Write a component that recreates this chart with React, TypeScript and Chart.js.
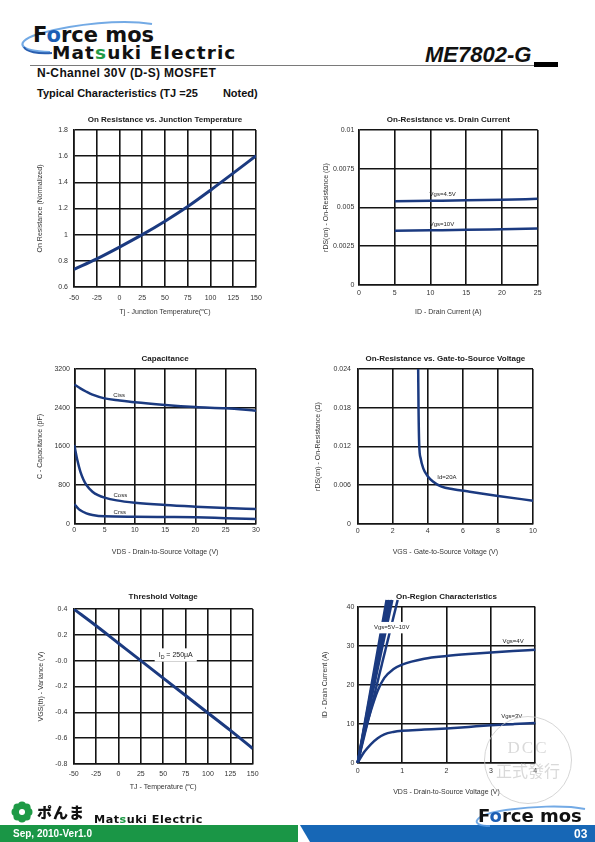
import React, { useEffect, useRef } from "react";
import { Chart, registerables } from "chart.js";

Chart.register(...registerables);

const FONT = "'Liberation Sans', Arial, Helvetica, sans-serif";
const LOGO_FONT = "'DejaVu Sans', 'Liberation Sans', sans-serif";
Chart.defaults.font.family = FONT;

const LINE_COLOR = "#1b3a80";
const GRID_COLOR = "#141414";

// ---------------- DATA ----------------
// 1. On Resistance vs. Junction Temperature
const tjTemps = [-50, -25, 0, 25, 50, 75, 100, 125, 150];
const rdsNormalized = [0.735, 0.815, 0.905, 1.0, 1.103, 1.215, 1.34, 1.47, 1.603];
const tempTicks = [-50, -25, 0, 25, 50, 75, 100, 125, 150];
const tempTickLabels = ["-50", "-25", "0", "25", "50", "75", "100", "125", "150"];
const rdsNormTicks = [0.6, 0.8, 1.0, 1.2, 1.4, 1.6, 1.8];
const rdsNormTickLabels = ["0.6", "0.8", "1", "1.2", "1.4", "1.6", "1.8"];

// 2. On-Resistance vs. Drain Current
const drainCurrents = [5, 10, 15, 20, 25];
const rdsVgs45 = [0.0054, 0.00543, 0.00546, 0.0055, 0.00556];
const rdsVgs10 = [0.0035, 0.00353, 0.00356, 0.0036, 0.00364];
const idTicks = [0, 5, 10, 15, 20, 25];
const idTickLabels = ["0", "5", "10", "15", "20", "25"];
const rdsTicks2 = [0, 0.0025, 0.005, 0.0075, 0.01];
const rdsTickLabels2 = ["0", "0.0025", "0.005", "0.0075", "0.01"];

// 3. Capacitance
const cissVds = [0, 1, 2, 3, 5, 7.5, 10, 15, 20, 25, 30];
const cissPf = [2880, 2800, 2730, 2670, 2594, 2550, 2512, 2457, 2415, 2388, 2340];
const cossVds = [0, 0.5, 1, 1.5, 2, 3, 4, 5, 7, 10, 15, 20, 25, 30];
const cossPf = [1630, 1320, 1080, 920, 805, 667, 590, 544, 488, 440, 392, 358, 330, 310];
const crssVds = [0, 0.5, 1, 2, 3, 5, 10, 15, 20, 25, 30];
const crssPf = [413, 340, 282, 220, 186, 158, 151, 145, 138, 120, 103];
const vdsTicks30 = [0, 5, 10, 15, 20, 25, 30];
const vdsTickLabels30 = ["0", "5", "10", "15", "20", "25", "30"];
const capTicks = [0, 800, 1600, 2400, 3200];
const capTickLabels = ["0", "800", "1600", "2400", "3200"];

// 4. On-Resistance vs. Gate-to-Source Voltage
const vgsValues = [3.45, 3.47, 3.51, 3.59, 3.74, 3.97, 4.31, 4.78, 5.45, 6.39, 8.01, 10];
const rdsVsVgs = [0.024, 0.0179, 0.01223, 0.01017, 0.00862, 0.00748, 0.00655, 0.00578, 0.00537, 0.00501, 0.00434, 0.00361];
const vgsTicks = [0, 2, 4, 6, 8, 10];
const vgsTickLabels = ["0", "2", "4", "6", "8", "10"];
const rdsTicks4 = [0, 0.006, 0.012, 0.018, 0.024];
const rdsTickLabels4 = ["0", "0.006", "0.012", "0.018", "0.024"];

// 5. Threshold Voltage
const thTemps = [-50, -25, 0, 25, 50, 75, 100, 125, 150];
const vthVariance = [0.4, 0.27, 0.135, 0.0, -0.135, -0.27, -0.405, -0.54, -0.68];
const vthTicks = [-0.8, -0.6, -0.4, -0.2, 0, 0.2, 0.4];
const vthTickLabels = ["-0.8", "-0.6", "-0.4", "-0.2", "-0.0", "0.2", "0.4"];

// 6. On-Region Characteristics
const bundleVds = [0.65, 0.68, 0.71, 0.75, 0.78, 0.9]; // Vgs = 10V ... 5V, drain voltage where each line leaves the top
const bundleTopCurrent = 41.8;
const vgs4Vds = [0, 0.15, 0.3, 0.45, 0.6, 0.8, 1.0, 1.5, 2, 2.5, 3, 3.5, 4];
const vgs4Id = [0, 7.5, 13.5, 18.5, 21.8, 24, 25.2, 26.7, 27.4, 27.9, 28.3, 28.7, 29.0];
const vgs3Vds = [0, 0.15, 0.3, 0.45, 0.6, 0.8, 1.0, 1.5, 2, 2.5, 3, 3.5, 4];
const vgs3Id = [0, 2.8, 4.8, 6.3, 7.3, 7.9, 8.2, 8.5, 8.8, 9.2, 9.6, 9.9, 10.2];
const vdsTicks4 = [0, 1, 2, 3, 4];
const vdsTickLabels4 = ["0", "1", "2", "3", "4"];
const idTicks40 = [0, 10, 20, 30, 40];
const idTickLabels40 = ["0", "10", "20", "30", "40"];

// ---------------- HELPERS ----------------
type Series = { xs: number[]; ys: number[]; width?: number };
type Note = { x: number; y: number; text: string; bg?: boolean; size?: number };
type Spec = {
  box: { left: number; top: number; width: number; height: number };
  plot: { left: number; top: number; right: number; bottom: number };
  titleY: number;
  yTitleX: number;
  xTitleY: number;
  yTickRight: number;
  xTickY: number;
  title: string;
  xTitle: string;
  yTitle: string;
  xMin: number;
  xMax: number;
  xTicks: number[];
  xTickLabels: string[];
  yMin: number;
  yMax: number;
  yTicks: number[];
  yTickLabels: string[];
  series: Series[];
  notes: Note[];
  noClip?: boolean;
};

const pts = (xs: number[], ys: number[]) => xs.map((x, i) => ({ x, y: ys[i] }));

function parseSub(text: string) {
  const parts: { t: string; sub: boolean }[] = [];
  const re = /_\{([^}]*)\}/g;
  let last = 0;
  let m: RegExpExecArray | null;
  while ((m = re.exec(text))) {
    if (m.index > last) parts.push({ t: text.slice(last, m.index), sub: false });
    parts.push({ t: m[1], sub: true });
    last = m.index + m[0].length;
  }
  if (last < text.length) parts.push({ t: text.slice(last), sub: false });
  return parts;
}

const notesPlugin = {
  id: "notes",
  afterDatasetsDraw(chart: any, _args: any, opts: any) {
    const items: Note[] = (opts && opts.items) || [];
    const ctx = chart.ctx as CanvasRenderingContext2D;
    const sx = chart.scales.x;
    const sy = chart.scales.y;
    ctx.save();
    for (const n of items) {
      const size = n.size || 6;
      const px = sx.getPixelForValue(n.x);
      const py = sy.getPixelForValue(n.y);
      const parts = parseSub(n.text);
      let total = 0;
      const widths = parts.map((p) => {
        ctx.font = `${p.sub ? size * 0.75 : size}px ${FONT}`;
        const w = ctx.measureText(p.t).width;
        total += w;
        return w;
      });
      let x = px - total / 2;
      if (n.bg) {
        ctx.fillStyle = "#ffffff";
        ctx.fillRect(x - 4, py - size * 0.95, total + 8, size * 1.9);
      }
      ctx.fillStyle = "#222";
      ctx.textAlign = "left";
      ctx.textBaseline = "middle";
      parts.forEach((p, i) => {
        ctx.font = `${p.sub ? size * 0.75 : size}px ${FONT}`;
        ctx.fillText(p.t, x, py + (p.sub ? size * 0.3 : 0));
        x += widths[i];
      });
    }
    ctx.restore();
  },
};

function buildConfig(s: Spec): any {
  const TITLE = 8;
  const TICK = 7;
  const AXIS = 7;
  const LH = 1.2;
  const titleLH = TITLE * LH;
  const axisLH = AXIS * LH;
  const tickLH = TICK * LH;
  const { box, plot } = s;
  const titlePadTop = s.titleY - box.top - titleLH / 2;
  const titlePadBottom = plot.top - box.top - titlePadTop - titleLH;
  const yAxisWidth = plot.left - box.left;
  const xAxisHeight = box.top + box.height - plot.bottom;
  const rightPad = box.left + box.width - plot.right;
  const yTitlePad = s.yTitleX - box.left - axisLH / 2;
  const xTitlePad = box.top + box.height - s.xTitleY - axisLH / 2;
  const yTickPad = plot.left - s.yTickRight;
  const xTickPad = s.xTickY - plot.bottom - tickLH / 2;

  const grid = { color: GRID_COLOR, lineWidth: 1.6, drawTicks: false };
  const border = { color: GRID_COLOR, width: 1.6 };

  return {
    type: "line",
    data: {
      datasets: s.series.map((ser) => ({
        data: pts(ser.xs, ser.ys),
        borderColor: LINE_COLOR,
        borderWidth: ser.width || 2.5,
        pointRadius: 0,
        fill: false,
        cubicInterpolationMode: "monotone",
        clip: s.noClip ? false : undefined,
      })),
    },
    options: {
      responsive: false,
      animation: false,
      events: [],
      layout: { padding: { left: 0, top: 0, right: rightPad, bottom: 0 } },
      plugins: {
        legend: { display: false },
        tooltip: { enabled: false },
        title: {
          display: true,
          text: s.title,
          fullSize: false,
          color: "#1a1a1a",
          font: { size: TITLE, weight: "bold", lineHeight: LH },
          padding: { top: titlePadTop, bottom: titlePadBottom },
        },
        notes: { items: s.notes },
      },
      scales: {
        x: {
          type: "linear",
          min: s.xMin,
          max: s.xMax,
          afterBuildTicks: (scale: any) => {
            scale.ticks = s.xTicks.map((v) => ({ value: v }));
          },
          afterFit: (scale: any) => {
            scale.height = xAxisHeight;
          },
          ticks: {
            autoSkip: false,
            maxRotation: 0,
            padding: xTickPad,
            color: "#333",
            font: { size: TICK, lineHeight: LH },
            callback: (_v: any, i: number) => s.xTickLabels[i],
          },
          grid,
          border,
          title: {
            display: true,
            text: s.xTitle,
            color: "#333",
            font: { size: AXIS, lineHeight: LH },
            padding: { top: 0, bottom: xTitlePad },
          },
        },
        y: {
          type: "linear",
          min: s.yMin,
          max: s.yMax,
          afterBuildTicks: (scale: any) => {
            scale.ticks = s.yTicks.map((v) => ({ value: v }));
          },
          afterFit: (scale: any) => {
            scale.width = yAxisWidth;
          },
          ticks: {
            autoSkip: false,
            padding: yTickPad,
            color: "#333",
            font: { size: TICK, lineHeight: LH },
            callback: (_v: any, i: number) => s.yTickLabels[i],
          },
          grid,
          border,
          title: {
            display: true,
            text: s.yTitle,
            color: "#333",
            font: { size: AXIS, lineHeight: LH },
            padding: { top: yTitlePad, bottom: 0 },
          },
        },
      },
    },
    plugins: [notesPlugin],
  };
}

// ---------------- CHART SPECS ----------------
const specs: Spec[] = [
  {
    box: { left: 20, top: 108, width: 280, height: 215 },
    plot: { left: 74, top: 130, right: 256, bottom: 287 },
    titleY: 120, yTitleX: 40.5, xTitleY: 312, yTickRight: 68, xTickY: 298,
    title: "On Resistance vs. Junction Temperature",
    xTitle: "Tj - Junction Temperature(℃)",
    yTitle: "On Resistance (Normalized)",
    xMin: -50, xMax: 150, xTicks: tempTicks, xTickLabels: tempTickLabels,
    yMin: 0.6, yMax: 1.8, yTicks: rdsNormTicks, yTickLabels: rdsNormTickLabels,
    series: [{ xs: tjTemps, ys: rdsNormalized, width: 3 }],
    notes: [],
  },
  {
    box: { left: 305, top: 108, width: 260, height: 215 },
    plot: { left: 359, top: 130, right: 537.7, bottom: 285 },
    titleY: 120, yTitleX: 326, xTitleY: 312, yTickRight: 354.3, xTickY: 292.7,
    title: "On-Resistance vs. Drain Current",
    xTitle: "ID - Drain Current (A)",
    yTitle: "rDS(on) - On-Resistance (Ω)",
    xMin: 0, xMax: 25, xTicks: idTicks, xTickLabels: idTickLabels,
    yMin: 0, yMax: 0.01, yTicks: rdsTicks2, yTickLabels: rdsTickLabels2,
    series: [
      { xs: drainCurrents, ys: rdsVgs45 },
      { xs: drainCurrents, ys: rdsVgs10 },
    ],
    notes: [
      { x: 11.7, y: 0.00585, text: "Vgs=4.5V" },
      { x: 11.6, y: 0.00392, text: "Vgs=10V" },
    ],
  },
  {
    box: { left: 20, top: 345, width: 280, height: 215 },
    plot: { left: 74.3, top: 369, right: 256, bottom: 524 },
    titleY: 358.5, yTitleX: 40, xTitleY: 551.7, yTickRight: 70, xTickY: 530,
    title: "Capacitance",
    xTitle: "VDS - Drain-to-Source Voltage (V)",
    yTitle: "C - Capacitance (pF)",
    xMin: 0, xMax: 30, xTicks: vdsTicks30, xTickLabels: vdsTickLabels30,
    yMin: 0, yMax: 3200, yTicks: capTicks, yTickLabels: capTickLabels,
    series: [
      { xs: cissVds, ys: cissPf },
      { xs: cossVds, ys: cossPf },
      { xs: crssVds, ys: crssPf },
    ],
    notes: [
      { x: 7.4, y: 2663, text: "Ciss" },
      { x: 7.6, y: 599, text: "Coss" },
      { x: 7.5, y: 241, text: "Crss" },
    ],
  },
  {
    box: { left: 305, top: 345, width: 260, height: 215 },
    plot: { left: 357.7, top: 369, right: 533, bottom: 524 },
    titleY: 359, yTitleX: 318, xTitleY: 551.7, yTickRight: 351, xTickY: 530.7,
    title: "On-Resistance vs. Gate-to-Source Voltage",
    xTitle: "VGS - Gate-to-Source Voltage (V)",
    yTitle: "rDS(on) - On-Resistance (Ω)",
    xMin: 0, xMax: 10, xTicks: vgsTicks, xTickLabels: vgsTickLabels,
    yMin: 0, yMax: 0.024, yTicks: rdsTicks4, yTickLabels: rdsTickLabels4,
    series: [{ xs: vgsValues, ys: rdsVsVgs }],
    notes: [{ x: 5.09, y: 0.00717, text: "Id=20A" }],
  },
  {
    box: { left: 20, top: 585, width: 280, height: 215 },
    plot: { left: 73.7, top: 609, right: 252.7, bottom: 764 },
    titleY: 597, yTitleX: 40.7, xTitleY: 786.7, yTickRight: 67.3, xTickY: 774,
    title: "Threshold Voltage",
    xTitle: "TJ - Temperature (℃)",
    yTitle: "VGS(th) - Variance (V)",
    xMin: -50, xMax: 150, xTicks: tempTicks, xTickLabels: tempTickLabels,
    yMin: -0.8, yMax: 0.4, yTicks: vthTicks, yTickLabels: vthTickLabels,
    series: [{ xs: thTemps, ys: vthVariance, width: 3 }],
    notes: [{ x: 64, y: 0.044, text: "I_{D} = 250μA", bg: true, size: 7 }],
  },
  {
    box: { left: 305, top: 585, width: 260, height: 215 },
    plot: { left: 357.7, top: 607, right: 535.3, bottom: 762.7 },
    titleY: 596.7, yTitleX: 325, xTitleY: 792.3, yTickRight: 354.3, xTickY: 771,
    title: "On-Region Characteristics",
    xTitle: "VDS - Drain-to-Source Voltage (V)",
    yTitle: "ID - Drain Current (A)",
    xMin: 0, xMax: 4, xTicks: vdsTicks4, xTickLabels: vdsTickLabels4,
    yMin: 0, yMax: 40, yTicks: idTicks40, yTickLabels: idTickLabels40,
    noClip: true,
    series: [
      ...bundleVds.map((v) => ({ xs: [0, v], ys: [0, bundleTopCurrent] })),
      { xs: vgs4Vds, ys: vgs4Id },
      { xs: vgs3Vds, ys: vgs3Id },
    ],
    notes: [
      { x: 0.766, y: 34.7, text: "Vgs=5V~10V", bg: true },
      { x: 3.5, y: 31.3, text: "Vgs=4V" },
      { x: 3.47, y: 11.8, text: "Vgs=3V" },
    ],
  },
];

function ChartBox({ spec }: { spec: Spec }) {
  const ref = useRef<HTMLCanvasElement>(null);
  useEffect(() => {
    const chart = new Chart(ref.current as HTMLCanvasElement, buildConfig(spec));
    return () => chart.destroy();
  }, [spec]);
  const { box } = spec;
  return (
    <canvas
      ref={ref}
      width={box.width}
      height={box.height}
      style={{ position: "absolute", left: box.left, top: box.top, width: box.width, height: box.height }}
    />
  );
}

// ---------------- PAGE DECORATION ----------------
function Txt(props: { x: number; y: number; size: number; style?: React.CSSProperties; children: React.ReactNode }) {
  const { x, y, size, style, children } = props;
  return (
    <div
      style={{
        position: "absolute",
        left: x,
        top: y - size / 2,
        fontSize: size,
        lineHeight: `${size}px`,
        whiteSpace: "pre",
        ...style,
      }}
    >
      {children}
    </div>
  );
}

function Header() {
  return (
    <>
      <svg width={595} height={80} style={{ position: "absolute", left: 0, top: 0 }}>
        <path d="M 50 52 C 18 52, 12 41, 42 33 C 75 24, 122 19, 152 24" stroke="#5b9be0" strokeWidth={2.2} fill="none" opacity={0.85} />
        <path d="M 24 47 C 26 52, 38 54, 52 53" stroke="#2a5fb0" strokeWidth={2} fill="none" />
      </svg>
      <Txt x={33} y={35.8} size={21} style={{ fontFamily: LOGO_FONT, fontWeight: 700, color: "#111" }}>
        F<span style={{ color: "#1d5fb4" }}>o</span>rce mos
      </Txt>
      <Txt x={52} y={52.9} size={18.5} style={{ fontFamily: LOGO_FONT, fontWeight: 700, color: "#111", letterSpacing: 1.1 }}>
        Mat<span style={{ color: "#1e9a46" }}>s</span>uki Electric
      </Txt>
      <div style={{ position: "absolute", left: 30, top: 64.5, width: 505, height: 1, background: "#7a7a7a" }} />
      <Txt x={425} y={54.5} size={22} style={{ fontFamily: FONT, fontWeight: 700, fontStyle: "italic", color: "#111" }}>
        ME7802-G
      </Txt>
      <div style={{ position: "absolute", left: 534, top: 62, width: 24, height: 5, background: "#000" }} />
      <Txt x={37} y={73} size={12} style={{ fontFamily: FONT, fontWeight: 700, color: "#111", letterSpacing: 0.35 }}>
        N-Channel 30V (D-S) MOSFET
      </Txt>
      <Txt x={37} y={93} size={11} style={{ fontFamily: FONT, fontWeight: 700, color: "#111" }}>
        Typical Characteristics (TJ =25<span style={{ display: "inline-block", width: 25 }} />Noted)
      </Txt>
    </>
  );
}

function Watermark() {
  return (
    <>
      <div
        style={{
          position: "absolute",
          left: 528 - 44,
          top: 760 - 44,
          width: 88,
          height: 88,
          borderRadius: "50%",
          border: "1.5px solid rgba(200,200,200,0.75)",
          boxSizing: "border-box",
          pointerEvents: "none",
        }}
      />
      <div
        style={{
          position: "absolute",
          left: 488,
          width: 80,
          top: 739,
          textAlign: "center",
          fontFamily: "'Liberation Serif', 'DejaVu Serif', serif",
          fontSize: 17,
          lineHeight: "17px",
          letterSpacing: 2,
          color: "rgba(185,185,185,0.55)",
        }}
      >
        DCC
      </div>
      <div
        style={{
          position: "absolute",
          left: 478,
          width: 100,
          top: 762,
          textAlign: "center",
          fontFamily: "'Noto Sans CJK TC', 'Noto Sans CJK SC', sans-serif",
          fontSize: 16,
          lineHeight: "17px",
          color: "rgba(185,185,185,0.55)",
        }}
      >
        正式發行
      </div>
    </>
  );
}

function Footer() {
  const petals = [0, 45, 90, 135, 180, 225, 270, 315];
  return (
    <>
      <svg width={40} height={26} style={{ position: "absolute", left: 9, top: 799 }}>
        {petals.map((a) => (
          <circle
            key={a}
            cx={13 + 6.5 * Math.cos((a * Math.PI) / 180)}
            cy={13 + 6.5 * Math.sin((a * Math.PI) / 180)}
            r={4}
            fill="#1e9a46"
          />
        ))}
        <circle cx={13} cy={13} r={3} fill="#ffffff" />
      </svg>
      <Txt x={37} y={811} size={15} style={{ fontFamily: "'Noto Sans CJK JP', sans-serif", fontWeight: 900, color: "#111", letterSpacing: 1 }}>
        ポんま
      </Txt>
      <Txt x={94} y={820} size={11.2} style={{ fontFamily: LOGO_FONT, fontWeight: 700, color: "#111", letterSpacing: 0.5 }}>
        Mat<span style={{ color: "#1e9a46" }}>s</span>uki Electric
      </Txt>
      <div style={{ position: "absolute", left: 0, top: 825, width: 298, height: 17, background: "#1a9646" }} />
      <div
        style={{
          position: "absolute",
          left: 300,
          top: 825,
          width: 295,
          height: 17,
          background: "#1767b6",
          clipPath: "polygon(0 0, 100% 0, 100% 100%, 10px 100%)",
        }}
      />
      <Txt x={13} y={833.5} size={10} style={{ fontFamily: FONT, fontWeight: 700, color: "#fff" }}>
        Sep, 2010-Ver1.0
      </Txt>
      <Txt x={574} y={833.5} size={12} style={{ fontFamily: FONT, fontWeight: 700, color: "#fff" }}>
        03
      </Txt>
      <svg width={130} height={30} style={{ position: "absolute", left: 470, top: 800 }}>
        <path d="M 20 26 C 0 26, 2 16, 30 11 C 60 6, 95 5, 115 9" stroke="#5b9be0" strokeWidth={2} fill="none" opacity={0.85} />
      </svg>
      <Txt x={478} y={816} size={18} style={{ fontFamily: LOGO_FONT, fontWeight: 700, color: "#111" }}>
        F<span style={{ color: "#1d5fb4" }}>o</span>rce mos
      </Txt>
    </>
  );
}

export default function App() {
  return (
    <div
      style={{
        position: "absolute",
        left: 0,
        top: 0,
        width: 595,
        height: 842,
        background: "#ffffff",
        overflow: "hidden",
        fontFamily: FONT,
      }}
    >
      <Header />
      {specs.map((s, i) => (
        <ChartBox key={i} spec={s} />
      ))}
      <Watermark />
      <Footer />
    </div>
  );
}
